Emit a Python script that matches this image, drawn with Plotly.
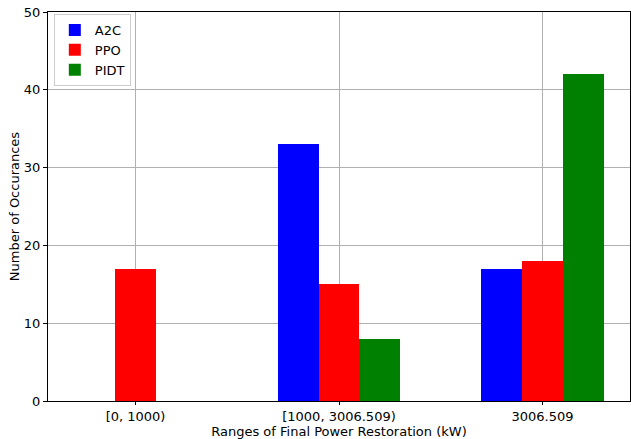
import plotly.graph_objects as go

categories = ["[0, 1000)", "[1000, 3006.509)", "3006.509"]
a2c = [0, 33, 17]
ppo = [17, 15, 18]
pidt = [0, 8, 42]
series = [("A2C", a2c, "blue"), ("PPO", ppo, "red"), ("PIDT", pidt, "green")]
offsets = [-0.2, 0.0, 0.2]

fig = go.Figure()
xs = list(range(len(categories)))
for (name, vals, col), off in zip(series, offsets):
    fig.add_trace(go.Bar(
        x=[x + off for x in xs], y=vals, width=0.2, name=name,
        marker=dict(color=col, line=dict(width=0)),
    ))

font = dict(family="DejaVu Sans", size=13, color="black")
fig.update_layout(
    width=631, height=439,
    margin=dict(l=48, r=1, t=12, b=38),
    plot_bgcolor="white", paper_bgcolor="white",
    font=font, barmode="overlay", bargap=0,
    showlegend=True,
    legend=dict(x=0.01, y=0.995, xanchor="left", yanchor="top",
                bordercolor="#cccccc", borderwidth=1, bgcolor="rgba(255,255,255,0.8)",
                font=dict(family="DejaVu Sans", size=13), itemwidth=30, tracegroupgap=3),
)
fig.update_xaxes(
    range=[-0.43, 2.43], tickmode="array", tickvals=xs, ticktext=categories,
    showgrid=True, gridcolor="#b0b0b0", gridwidth=0.8,
    showline=True, linecolor="black", linewidth=1, mirror=True,
    ticks="outside", ticklen=3, tickcolor="black",
    title=dict(text="Ranges of Final Power Restoration (kW)", font=font, standoff=0),
    zeroline=False,
)
fig.update_yaxes(
    range=[0, 50], tickmode="array", tickvals=[0, 10, 20, 30, 40, 50],
    showgrid=True, gridcolor="#b0b0b0", gridwidth=0.8,
    showline=True, linecolor="black", linewidth=1, mirror=True,
    ticks="outside", ticklen=4, tickcolor="black",
    title=dict(text="Number of Occurances", font=font, standoff=1),
    zeroline=False,
)
fig.write_html("out.html")
